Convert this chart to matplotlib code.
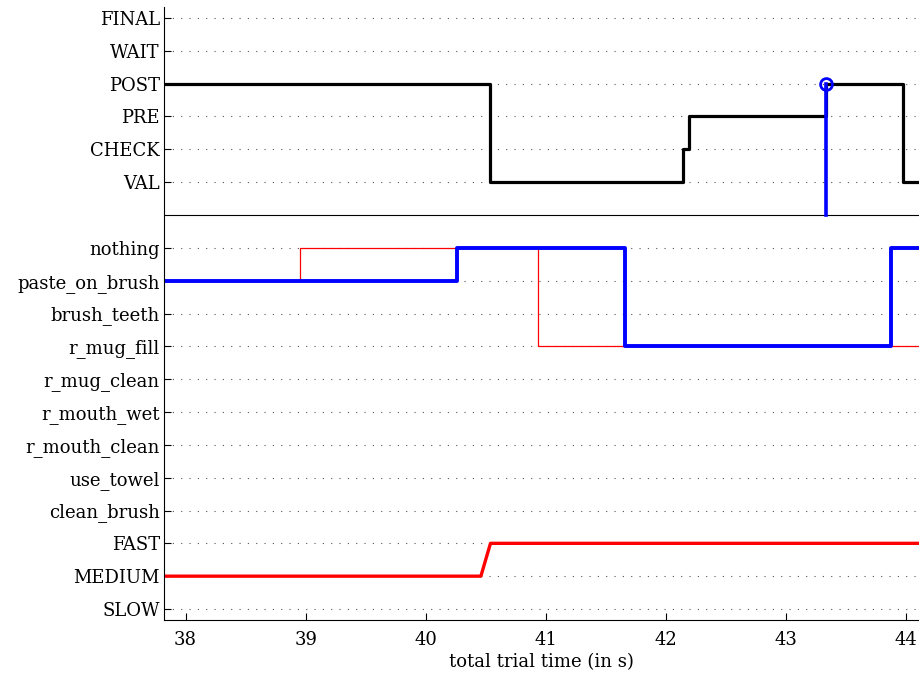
import matplotlib
matplotlib.use("Agg")
import matplotlib.pyplot as plt
import numpy as np

# y categories (bottom to top)
lower_labels = ["SLOW", "MEDIUM", "FAST", "clean_brush", "use_towel", "r_mouth_clean",
                "r_mouth_wet", "r_mug_clean", "r_mug_fill", "brush_teeth",
                "paste_on_brush", "nothing"]
upper_labels = ["VAL", "CHECK", "PRE", "POST", "WAIT", "FINAL"]

# phase state (black step line): change times and states
phase_times = [37.82, 40.54, 42.145, 42.19, 43.337, 43.98, 44.11]
phase_states = ["POST", "VAL", "CHECK", "PRE", "POST", "VAL", "VAL"]

# event marker (blue stem)
event_time = 43.337
event_state = "POST"

# observed action (blue thick step)
obs_times = [37.82, 40.26, 41.66, 43.88, 44.11]
obs_actions = ["paste_on_brush", "nothing", "r_mug_fill", "nothing", "nothing"]

# predicted action (red thin step)
pred_times = [37.82, 38.95, 40.94, 44.11]
pred_actions = ["paste_on_brush", "nothing", "r_mug_fill", "r_mug_fill"]

# speed (red thick line, linear between points)
speed_times = [37.82, 40.46, 40.54, 44.11]
speed_levels = ["MEDIUM", "MEDIUM", "FAST", "FAST"]

ymap = {lab: i for i, lab in enumerate(lower_labels)}
ymap.update({lab: 13 + i for i, lab in enumerate(upper_labels)})

plt.rcParams['font.family'] = ['DejaVu Serif']

fig = plt.figure(figsize=(9.19, 6.75), dpi=100)
ax = fig.add_axes([164/919, 55/675, 1 - 164/919, (620-7)/675])

ax.set_xlim(37.82, 44.11)
ax.set_ylim(-0.335, 18.335)

ticks = list(range(0, 12)) + list(range(13, 19))
ax.set_yticks(ticks)
ax.set_yticklabels(lower_labels + upper_labels)
ax.set_xticks([38, 39, 40, 41, 42, 43, 44])
ax.tick_params(direction='in', labelsize=13, length=5, width=0.8)
ax.tick_params(axis='y', pad=3)
ax.tick_params(axis='x', pad=8)
ax.yaxis.grid(True, linestyle=(0, (1, 6.5)), color='#555555', linewidth=0.8)
ax.set_axisbelow(True)
for s in ['top', 'right']:
    ax.spines[s].set_visible(False)
for s in ['left', 'bottom']:
    ax.spines[s].set_linewidth(0.8)

ax.axhline(12, color='black', linewidth=0.8)

ax.step(phase_times, [ymap[s] for s in phase_states], where='post',
        color='black', linewidth=2.3)
ax.step(pred_times, [ymap[s] for s in pred_actions], where='post',
        color='red', linewidth=0.9)
ax.step(obs_times, [ymap[s] for s in obs_actions], where='post',
        color='blue', linewidth=2.8)
ax.plot(speed_times, [ymap[s] for s in speed_levels], color='red', linewidth=2.4)

ax.plot([event_time, event_time], [12, ymap[event_state]], color='blue',
        linewidth=2.6, zorder=5)
ax.plot([event_time], [ymap[event_state]], marker='o', markersize=8.5,
        markerfacecolor='none', markeredgecolor='blue', markeredgewidth=2, zorder=6)

ax.set_xlabel("total trial time (in s)", fontsize=13, labelpad=3)

fig.savefig("out.png", dpi=100)
